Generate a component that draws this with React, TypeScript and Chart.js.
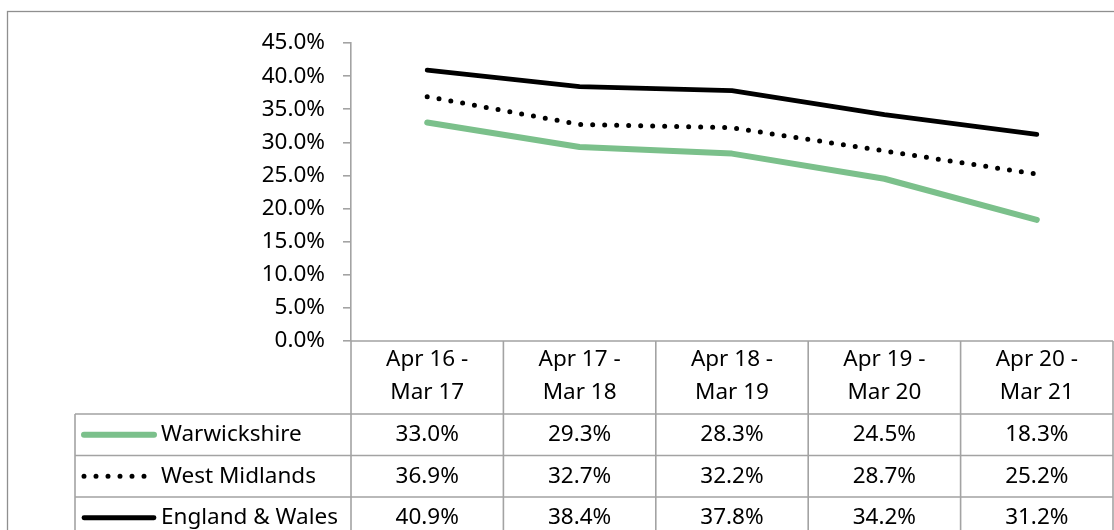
import React, { useEffect, useRef } from "react";
import { Chart, registerables } from "chart.js";

Chart.register(...registerables);

const categories: string[][] = [
  ["Apr 16 -", "Mar 17"],
  ["Apr 17 -", "Mar 18"],
  ["Apr 18 -", "Mar 19"],
  ["Apr 19 -", "Mar 20"],
  ["Apr 20 -", "Mar 21"],
];
const warwickshire = [33.0, 29.3, 28.3, 24.5, 18.3];
const westMidlands = [36.9, 32.7, 32.2, 28.7, 25.2];
const englandWales = [40.9, 38.4, 37.8, 34.2, 31.2];
const seriesNames = ["Warwickshire", "West Midlands", "England & Wales"];
const yTicks = [0, 5, 10, 15, 20, 25, 30, 35, 40, 45];

const FONT_FAMILY = "'Noto Sans', 'Open Sans', sans-serif";
const FONT_SIZE = 22.5;
const GREEN = "#7bc08b";
const GRID = "#a3a3a3";

const tablePlugin = {
  id: "dataTable",
  afterDraw(chart: any) {
    const ctx = chart.ctx as CanvasRenderingContext2D;
    const area = chart.chartArea;
    const left = area.left;
    const right = area.right;
    const n = categories.length;
    const colW = (right - left) / n;
    const top = area.bottom;
    const headerBottom = top + 73;
    const rowH = 41.5;
    const legendLeft = 75;
    const rows = [warwickshire, westMidlands, englandWales];
    const bottom = headerBottom + rowH * rows.length;

    ctx.save();
    ctx.strokeStyle = "#8f8f8f";
    ctx.lineWidth = 1.3;
    ctx.strokeRect(7.5, 11.5, 2000, 2000);

    ctx.strokeStyle = GRID;
    ctx.lineWidth = 1.6;
    ctx.beginPath();
    ctx.moveTo(left, top);
    ctx.lineTo(right, top);
    for (let i = 0; i <= n; i++) {
      const x = left + i * colW;
      ctx.moveTo(x, top);
      ctx.lineTo(x, bottom);
    }
    for (let r = 0; r <= rows.length; r++) {
      const y = headerBottom + r * rowH;
      ctx.moveTo(legendLeft, y);
      ctx.lineTo(right, y);
    }
    ctx.moveTo(legendLeft, headerBottom);
    ctx.lineTo(legendLeft, bottom);
    ctx.stroke();

    ctx.fillStyle = "#000";
    ctx.font = `${FONT_SIZE}px ${FONT_FAMILY}`;
    ctx.textAlign = "center";
    ctx.textBaseline = "middle";
    const xs = chart.scales.x;
    categories.forEach((lines, i) => {
      const cx = xs.getPixelForValue(i);
      ctx.fillText(lines[0], cx, top + 19);
      ctx.fillText(lines[1], cx, top + 52);
    });
    rows.forEach((vals, r) => {
      const cy = headerBottom + r * rowH + rowH / 2;
      vals.forEach((v, i) => {
        const cx = xs.getPixelForValue(i);
        ctx.fillText(v.toFixed(1) + "%", cx, cy);
      });
    });
    ctx.textAlign = "left";
    const keyL = 84;
    const keyR = 154;
    rows.forEach((_, r) => {
      const cy = headerBottom + r * rowH + rowH / 2;
      ctx.lineCap = "round";
      if (r === 0) {
        ctx.strokeStyle = GREEN;
        ctx.lineWidth = 6;
        ctx.setLineDash([]);
      } else if (r === 1) {
        ctx.strokeStyle = "#000";
        ctx.lineWidth = 5;
        ctx.setLineDash([0, 12]);
      } else {
        ctx.strokeStyle = "#000";
        ctx.lineWidth = 4.8;
        ctx.setLineDash([]);
      }
      ctx.beginPath();
      ctx.moveTo(keyL, cy);
      ctx.lineTo(r === 1 ? keyR - 2 : keyR, cy);
      ctx.stroke();
      ctx.setLineDash([]);
      ctx.fillStyle = "#000";
      ctx.fillText(seriesNames[r], 161, cy);
    });
    ctx.restore();
  },
};

export default function App() {
  const ref = useRef<HTMLCanvasElement | null>(null);
  useEffect(() => {
    document.body.style.margin = "0";
    if (!ref.current) return;
    const chart = new Chart(ref.current, {
      type: "line",
      data: {
        labels: categories.map((c) => c.join(" ")),
        datasets: [
          {
            label: seriesNames[0],
            data: warwickshire,
            borderColor: GREEN,
            borderWidth: 6,
            borderCapStyle: "round",
            borderJoinStyle: "round",
            pointRadius: 0,
            tension: 0,
          },
          {
            label: seriesNames[1],
            data: westMidlands,
            borderColor: "#000",
            borderWidth: 5,
            borderDash: [0, 12],
            borderCapStyle: "round",
            pointRadius: 0,
            tension: 0,
          },
          {
            label: seriesNames[2],
            data: englandWales,
            borderColor: "#000",
            borderWidth: 4.8,
            borderCapStyle: "round",
            borderJoinStyle: "round",
            pointRadius: 0,
            tension: 0,
          },
        ],
      },
      options: {
        responsive: false,
        animation: false,
        layout: { padding: { left: 0, right: 1, top: 43, bottom: 189 } },
        plugins: { legend: { display: false }, tooltip: { enabled: false } },
        scales: {
          x: { display: false, offset: true },
          y: {
            min: 0,
            max: 45,
            afterFit: (s: any) => {
              s.width = 351;
            },
            afterBuildTicks: (s: any) => {
              s.ticks = yTicks.map((v) => ({ value: v }));
            },
            ticks: {
              padding: 18,
              color: "#000",
              font: { family: FONT_FAMILY, size: FONT_SIZE },
              callback: (v: any) => Number(v).toFixed(1) + "%",
            },
            grid: {
              drawOnChartArea: false,
              drawTicks: true,
              tickLength: 8,
              color: GRID,
              lineWidth: 1.6,
            },
            border: { display: true, color: GRID, width: 1.6 },
          },
        },
      },
      plugins: [tablePlugin],
    });
    return () => chart.destroy();
  }, []);
  return (
    <div style={{ width: 1114, height: 530 }}>
      <canvas ref={ref} width={1114} height={530} style={{ display: "block" }} />
    </div>
  );
}
